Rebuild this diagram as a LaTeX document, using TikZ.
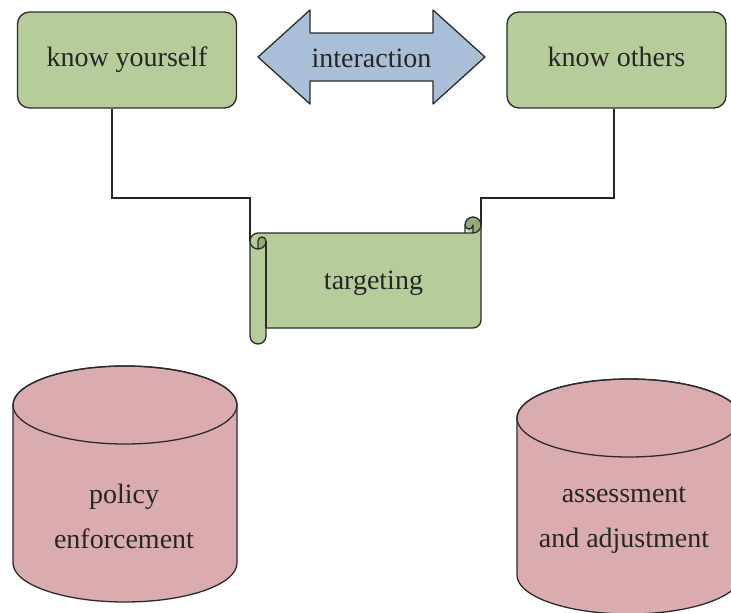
\documentclass[tikz,border=0pt]{standalone}
\usepackage{fontspec}
\setmainfont{Liberation Serif}
\definecolor{gfill}{HTML}{B7CC9B}
\definecolor{gdark}{HTML}{94AA7C}
\definecolor{bfill}{HTML}{A9BFD8}
\definecolor{pfill}{HTML}{DBACAF}
\definecolor{edge}{HTML}{2B2B2B}
\begin{document}
\begin{tikzpicture}[x=1pt,y=-1pt,
  lbl/.style={font=\fontsize{28}{45}\selectfont, text=black!85, align=center, inner sep=0pt},
  gbox/.style={draw=edge, fill=gfill, line width=1.3pt, rounded corners=12pt,
     minimum width=219pt, minimum height=96pt, font=\fontsize{28}{34}\selectfont, text=black!85,
     text height=19pt, text depth=6pt},
  outl/.style={draw=edge, line width=1.3pt, line join=round},
  conn/.style={draw=black!85, line width=1.2pt}]
\useasboundingbox (0,0) rectangle (731,613);
\clip (0,0) rectangle (731,613);

% boxes
\node[gbox] (ky) at (127,60) {know yourself};
\node[gbox] (ko) at (616.5,60) {know others};

% interaction double arrow
\path[outl, fill=bfill] (258,57) -- (310,10) -- (310,33) -- (433,33) -- (433,10) -- (485,57)
  -- (433,104) -- (433,81) -- (310,81) -- (310,104) -- cycle;
\node[lbl] (ia) at (371.5,58) {interaction};

% scroll attachment points
\coordinate (sl) at (250,241);
\coordinate (sr) at (481,225);

% connectors
\draw[conn] ([xshift=-15pt]ky.south) |- (250,198) -- (sl);
\draw[conn] ([xshift=-2.5pt]ko.south) |- (481,198) -- (sr);

% scroll (horizontal scroll shape)
\fill[gfill] (481,225) arc[start angle=0, delta angle=90, radius=8]
  -- (473,233) -- (258,233) arc[start angle=270, delta angle=-90, radius=8]
  -- (250,336) arc[start angle=180, delta angle=-180, radius=8]
  -- (266,328) -- (473,328) arc[start angle=90, delta angle=-90, radius=8] -- cycle;
\fill[gfill] (473,225) circle[radius=8];
\fill[gdark] (258,249) arc[start angle=90, delta angle=-90, radius=8]
  arc[start angle=0, delta angle=-180, radius=4] -- cycle;
\fill[gdark] (473,233) arc[start angle=90, delta angle=-270, radius=8]
  arc[start angle=180, delta angle=-180, radius=4] -- cycle;
\draw[outl] (250,241) arc[start angle=180, delta angle=90, radius=8]
  -- (465,233) -- (465,225) arc[start angle=180, delta angle=180, radius=8]
  -- (481,320) arc[start angle=0, delta angle=90, radius=8]
  -- (266,328) -- (266,336) arc[start angle=0, delta angle=180, radius=8] -- cycle;
\draw[outl] (465,233) -- (473,233) arc[start angle=90, delta angle=-90, radius=8];
\draw[outl] (473,233) -- (473,225) arc[start angle=0, delta angle=180, radius=4];
\draw[outl] (258,249) -- (258,241) arc[start angle=180, delta angle=180, radius=4]
  arc[start angle=0, delta angle=180, radius=8];
\draw[outl] (266,241) -- (266,328);
\node[lbl] (tg) at (373.5,283) {targeting};

% cylinders
\path[outl, fill=pfill] (13,405) -- (13,563) arc[start angle=180, delta angle=-180, x radius=112, y radius=39]
  -- (237,405) arc[start angle=0, delta angle=-180, x radius=112, y radius=39] -- cycle;
\draw[outl] (125,405) ellipse[x radius=112, y radius=39];
\node[lbl] (pe) at (124,516) {policy\\enforcement};

\path[outl, fill=pfill] (517,418) -- (517,575) arc[start angle=180, delta angle=-180, x radius=112, y radius=39]
  -- (741,418) arc[start angle=0, delta angle=-180, x radius=112, y radius=39] -- cycle;
\draw[outl] (629,418) ellipse[x radius=112, y radius=39];
\node[lbl] (aa) at (624,520) {assessment\\and adjustment};
\end{tikzpicture}
\end{document}
